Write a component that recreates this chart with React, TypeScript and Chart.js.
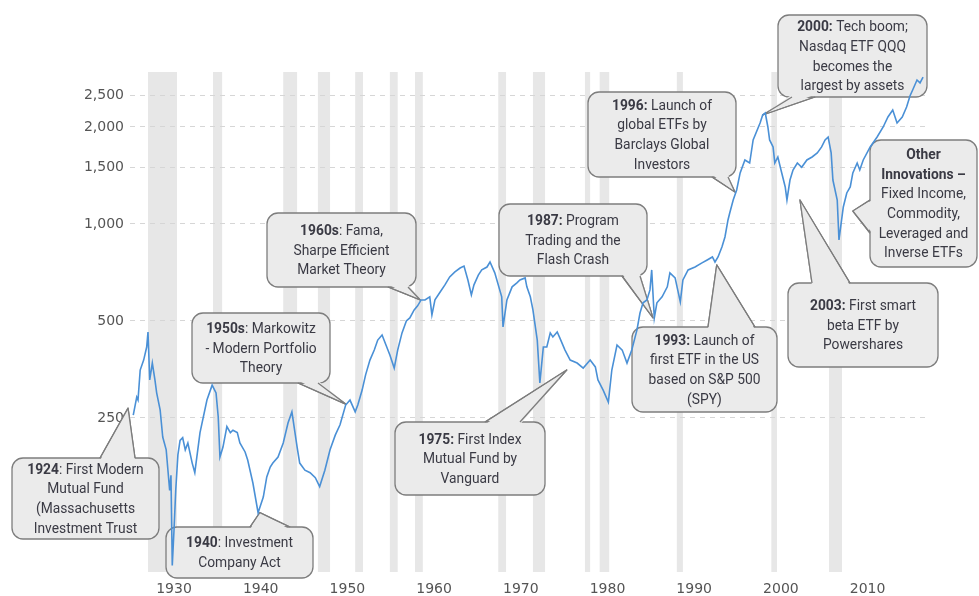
import React, { useEffect, useRef } from 'react';
import { Chart, registerables } from 'chart.js';

Chart.register(...registerables);

// ---- data (x positions in the chart's displayed years) ----
const years = [
  1925.3, 1925.7, 1925.85, 1926.1, 1926.5, 1926.85, 1927.0, 1927.2, 1927.5, 1927.8,
  1928.0, 1928.4, 1928.7, 1929.1, 1929.3, 1929.5, 1929.65, 1929.8, 1930.0, 1930.2,
  1930.45, 1930.7, 1931.0, 1931.3, 1931.6, 1932.1, 1932.4, 1933.0, 1933.8, 1934.4,
  1934.85, 1935.1, 1935.3, 1935.65, 1936.1, 1936.5, 1936.8, 1937.3, 1937.6, 1938.2,
  1938.5, 1939.1, 1939.7, 1940.3, 1940.7, 1941.1, 1941.4, 1942.0, 1942.6, 1943.15,
  1943.6, 1944.2, 1944.5, 1945.1, 1945.7, 1946.3, 1946.8, 1947.4, 1948.0, 1948.6,
  1949.15, 1949.8, 1950.3, 1950.9, 1951.2, 1951.7, 1952.1, 1952.6, 1953.1, 1953.5,
  1954.0, 1954.45, 1954.9, 1955.4, 1955.8, 1956.3, 1956.8, 1957.2, 1957.7, 1958.1,
  1958.5, 1958.95, 1959.5, 1959.75, 1960.1, 1960.7, 1961.25, 1961.8, 1962.4, 1963.0,
  1963.45, 1963.9, 1964.3, 1964.6, 1965.1, 1965.5, 1966.1, 1966.45, 1967.0, 1967.8,
  1967.95, 1968.4, 1969.0, 1969.55, 1969.9, 1970.5, 1970.7, 1971.1, 1971.4, 1971.9,
  1972.2, 1972.6, 1973.0, 1973.4, 1973.7, 1974.2, 1974.5, 1975.1, 1975.7, 1976.5,
  1977.2, 1978.0, 1978.6, 1978.9, 1979.5, 1980.1, 1980.5, 1981.1, 1981.7, 1982.25,
  1982.8, 1983.4, 1983.75, 1984.1, 1984.55, 1984.9, 1985.1, 1985.4, 1985.7, 1986.3,
  1986.9, 1987.2, 1987.8, 1988.1, 1988.4, 1988.7, 1989.3, 1990.1, 1990.9, 1991.5,
  1992.1, 1992.4, 1992.75, 1993.2, 1993.55, 1993.9, 1994.1, 1994.5, 1994.9, 1995.3,
  1995.85, 1996.4, 1996.8, 1997.6, 1997.9, 1998.2, 1998.5, 1998.7, 1999.1, 1999.3,
  1999.65, 2000.1, 2000.5, 2000.7, 2001.05, 2001.4, 2001.9, 2002.4, 2003.0, 2003.6,
  2004.2, 2004.7, 2005.1, 2005.45, 2005.8, 2006.0, 2006.5, 2006.7, 2007.2, 2007.6,
  2008.0, 2008.3, 2008.8, 2009.1, 2009.5, 2010.3, 2011.1, 2011.8, 2012.35, 2012.9,
  2013.4, 2014.0, 2014.5, 2014.9, 2015.2, 2015.7, 2016.05, 2016.4,
];
const values = [
  255, 290, 284, 352, 378, 415, 462, 328, 370, 328,
  299, 265, 218, 199, 172, 149, 166, 87, 112, 149,
  192, 213, 217, 199, 209, 181, 169, 225, 284, 316,
  299, 252, 189, 203, 235, 225, 229, 225, 209, 196,
  185, 157, 127, 142, 164, 176, 181, 189, 209, 241,
  261, 203, 181, 172, 169, 163, 153, 172, 199, 221,
  238, 274, 284, 261, 274, 305, 340, 378, 406, 436,
  452, 421, 392, 357, 406, 459, 500, 511, 541, 557,
  581, 581, 594, 522, 581, 615, 647, 685, 710, 730,
  740, 670, 602, 647, 694, 720, 735, 762, 705, 594,
  479, 581, 638, 656, 670, 680, 638, 594, 541, 436,
  321, 415, 415, 459, 446, 462, 443, 406, 378, 370,
  357, 378, 360, 328, 305, 280, 352, 421, 406, 370,
  406, 469, 529, 569, 581, 624, 720, 511, 569, 594,
  638, 705, 680, 624, 573, 670, 720, 735, 757, 773,
  790, 762, 790, 848, 911, 1029, 1081, 1187, 1275, 1440,
  1580, 1546, 1823, 2058, 2179, 2210, 2000, 1823, 1734, 1546,
  1614, 1440, 1303, 1187, 1369, 1471, 1546, 1500, 1580, 1614,
  1661, 1734, 1823, 1862, 1661, 1369, 1187, 892, 1129, 1248,
  1303, 1440, 1546, 1471, 1580, 1734, 1862, 2000, 2148, 2258,
  2058, 2148, 2307, 2500, 2605, 2798, 2740, 2858,
];
const yTickValues = [250, 500, 1000, 1500, 2000, 2500];
const xTickValues = [1930, 1940, 1950, 1960, 1970, 1980, 1990, 2000, 2010];
const bandStart = [1927.0, 1934.5, 1942.6, 1946.6, 1950.9, 1954.9, 1957.8, 1967.4, 1971.4, 1977.4, 1979.1, 1988.0, 1998.9, 2005.55];
const bandEnd = [1930.35, 1935.55, 1944.2, 1948.0, 1951.8, 1955.8, 1958.7, 1968.3, 1972.8, 1978.0, 1980.2, 1988.7, 1999.55, 2007.05];

const X_MIN = 1924.925;
const X_MAX = 2017.2;
const Y_MIN = 83.1;
const Y_MAX = 2963;

// ---- callouts: box layout in px, pointer tip in data units ----
type Seg = [string, number];
type Callout = {
  x: number; y: number; w: number; h: number;
  side: 'top' | 'bottom' | 'left';
  b1: number; b2: number;
  tipYear: number; tipValue: number;
  lines: Seg[][];
};
const callouts: Callout[] = [
  { x: 12, y: 458, w: 147, h: 81, side: 'top', b1: 100, b2: 135, tipYear: 1924.7, tipValue: 268,
    lines: [[['1924', 1], [': First Modern', 0]], [['Mutual Fund', 0]], [['(Massachusetts', 0]], [['Investment Trust', 0]]] },
  { x: 166, y: 527, w: 147, h: 51, side: 'top', b1: 250, b2: 290, tipYear: 1939.9, tipValue: 127,
    lines: [[['1940', 1], [': Investment', 0]], [['Company Act', 0]]] },
  { x: 192, y: 313, w: 138, h: 70, side: 'bottom', b1: 298, b2: 318, tipYear: 1949.8, tipValue: 276,
    lines: [[['1950s', 1], [': Markowitz', 0]], [['- Modern Portfolio', 0]], [['Theory', 0]]] },
  { x: 267, y: 213, w: 149, h: 74, side: 'bottom', b1: 388, b2: 408, tipYear: 1958.4, tipValue: 581,
    lines: [[['1960s', 1], [': Fama,', 0]], [['Sharpe Efficient', 0]], [['Market Theory', 0]]] },
  { x: 395, y: 422, w: 150, h: 73, side: 'top', b1: 485, b2: 520, tipYear: 1975.3, tipValue: 352,
    lines: [[['1975:', 1], [' First Index', 0]], [['Mutual Fund by', 0]], [['Vanguard', 0]]] },
  { x: 499, y: 204, w: 148, h: 72, side: 'bottom', b1: 622, b2: 640, tipYear: 1985.25, tipValue: 511,
    lines: [[['1987:', 1], [' Program', 0]], [['Trading and the', 0]], [['Flash Crash', 0]]] },
  { x: 632, y: 327, w: 145, h: 85, side: 'top', b1: 708, b2: 755, tipYear: 1992.6, tipValue: 746,
    lines: [[['1993:', 1], [' Launch of', 0]], [['first ETF in the US', 0]], [['based on S&P 500', 0]], [['(SPY)', 0]]] },
  { x: 588, y: 92, w: 148, h: 85, side: 'bottom', b1: 712, b2: 728, tipYear: 1994.7, tipValue: 1257,
    lines: [[['1996:', 1], [' Launch of', 0]], [['global ETFs by', 0]], [['Barclays Global', 0]], [['Investors', 0]]] },
  { x: 778, y: 15, w: 149, h: 82, side: 'bottom', b1: 792, b2: 815, tipYear: 1997.9, tipValue: 2179,
    lines: [[['2000:', 1], [' Tech boom;', 0]], [['Nasdaq ETF QQQ', 0]], [['becomes the', 0]], [['largest by assets', 0]]] },
  { x: 870, y: 140, w: 107, h: 127, side: 'left', b1: 200, b2: 233, tipYear: 2008.3, tipValue: 1097,
    lines: [[['Other', 1]], [['Innovations \u2013', 1]], [['Fixed Income,', 0]], [['Commodity,', 0]], [['Leveraged and', 0]], [['Inverse ETFs', 0]]] },
  { x: 788, y: 283, w: 150, h: 84, side: 'top', b1: 812, b2: 850, tipYear: 2002.2, tipValue: 1187,
    lines: [[['2003:', 1], [' First smart', 0]], [['beta ETF by', 0]], [['Powershares', 0]]] },
];

const BOX_FILL = '#ebebeb';
const BOX_STROKE = '#7d7d7d';
const TEXT_COLOR = '#3a3a44';
const FONT_SIZE = 15;
const FONT_FAMILY = 'Roboto, "Noto Sans", sans-serif';
const H_SCALE = 0.92;
const LINE_H = 19.6;

function roundRectPath(ctx: CanvasRenderingContext2D, x: number, y: number, w: number, h: number, r: number) {
  ctx.beginPath();
  ctx.moveTo(x + r, y);
  ctx.arcTo(x + w, y, x + w, y + h, r);
  ctx.arcTo(x + w, y + h, x, y + h, r);
  ctx.arcTo(x, y + h, x, y, r);
  ctx.arcTo(x, y, x + w, y, r);
  ctx.closePath();
}

const bandsPlugin = {
  id: 'bands',
  beforeDraw(chart: any) {
    const { ctx, chartArea } = chart;
    const xs = chart.scales.x;
    ctx.save();
    ctx.fillStyle = '#e7e7e7';
    for (let i = 0; i < bandStart.length; i++) {
      const a = xs.getPixelForValue(bandStart[i]);
      const b = xs.getPixelForValue(bandEnd[i]);
      ctx.fillRect(a, chartArea.top, b - a, chartArea.bottom - chartArea.top);
    }
    ctx.restore();
  },
};

const calloutPlugin = {
  id: 'callouts',
  beforeDatasetsDraw(chart: any) {
    const { ctx } = chart;
    const xs = chart.scales.x;
    const ys = chart.scales.y;
    ctx.save();
    ctx.lineWidth = 1.3;
    ctx.lineJoin = 'round';
    for (const c of callouts) {
      const tx = xs.getPixelForValue(c.tipYear);
      const ty = ys.getPixelForValue(c.tipValue);
      let p1: number[], p2: number[], q1: number[], q2: number[];
      if (c.side === 'top') {
        p1 = [c.b1, c.y]; p2 = [c.b2, c.y]; q1 = [c.b1, c.y + 2.5]; q2 = [c.b2, c.y + 2.5];
      } else if (c.side === 'bottom') {
        p1 = [c.b1, c.y + c.h]; p2 = [c.b2, c.y + c.h]; q1 = [c.b1, c.y + c.h - 2.5]; q2 = [c.b2, c.y + c.h - 2.5];
      } else {
        p1 = [c.x, c.b1]; p2 = [c.x, c.b2]; q1 = [c.x + 2.5, c.b1]; q2 = [c.x + 2.5, c.b2];
      }
      ctx.fillStyle = BOX_FILL;
      ctx.strokeStyle = BOX_STROKE;
      ctx.beginPath();
      ctx.moveTo(tx, ty); ctx.lineTo(p1[0], p1[1]); ctx.lineTo(p2[0], p2[1]); ctx.closePath();
      ctx.fill(); ctx.stroke();
      roundRectPath(ctx, c.x, c.y, c.w, c.h, 11);
      ctx.fill(); ctx.stroke();
      ctx.beginPath();
      ctx.moveTo(tx, ty); ctx.lineTo(q1[0], q1[1]); ctx.lineTo(q2[0], q2[1]); ctx.closePath();
      ctx.fill();
      ctx.beginPath();
      ctx.moveTo(p1[0], p1[1]); ctx.lineTo(tx, ty); ctx.lineTo(p2[0], p2[1]);
      ctx.stroke();

      // text
      const cx = c.x + c.w / 2;
      const cy = c.y + c.h / 2 + 1;
      const n = c.lines.length;
      ctx.fillStyle = TEXT_COLOR;
      ctx.textBaseline = 'middle';
      ctx.textAlign = 'left';
      c.lines.forEach((segs, i) => {
        const ly = cy + (i - (n - 1) / 2) * LINE_H;
        let total = 0;
        const widths = segs.map(([t, b]) => {
          ctx.font = `${b ? 'bold ' : ''}${FONT_SIZE}px ${FONT_FAMILY}`;
          const w = ctx.measureText(t).width * H_SCALE;
          total += w;
          return w;
        });
        let x = cx - total / 2;
        segs.forEach(([t, b], k) => {
          ctx.font = `${b ? 'bold ' : ''}${FONT_SIZE}px ${FONT_FAMILY}`;
          ctx.save();
          ctx.translate(x, ly);
          ctx.scale(H_SCALE, 1);
          ctx.fillText(t, 0, 0);
          ctx.restore();
          x += widths[k];
        });
      });
    }
    ctx.restore();
  },
};

export default function App() {
  const ref = useRef<HTMLCanvasElement | null>(null);
  useEffect(() => {
    document.body.style.margin = '0';
    const canvas = ref.current;
    if (!canvas) return;
    const chart = new Chart(canvas, {
      type: 'line',
      data: {
        datasets: [
          {
            data: years.map((y, i) => ({ x: y, y: values[i] })),
            borderColor: '#4a90d6',
            borderWidth: 1.6,
            pointRadius: 0,
            tension: 0,
            fill: false,
          },
        ],
      },
      options: {
        responsive: false,
        animation: false,
        layout: { padding: { left: 0, right: 49, top: 72, bottom: 0 } },
        plugins: { legend: { display: false }, tooltip: { enabled: false } },
        scales: {
          x: {
            type: 'linear',
            min: X_MIN,
            max: X_MAX,
            grid: { display: false, drawTicks: false },
            border: { display: false },
            afterBuildTicks: (s: any) => { s.ticks = xTickValues.map((v) => ({ value: v })); },
            afterFit: (s: any) => { s.height = 24; },
            ticks: {
              autoSkip: false,
              maxRotation: 0,
              padding: 9,
              color: '#555555',
              font: { family: '"DejaVu Sans", Verdana, sans-serif', size: 14 },
              callback: (v: any) => String(v),
            },
          },
          y: {
            type: 'logarithmic',
            min: Y_MIN,
            max: Y_MAX,
            grid: { color: '#d6d6d6', lineWidth: 1, drawTicks: false },
            border: { display: false, dash: [5, 5] },
            afterBuildTicks: (s: any) => { s.ticks = yTickValues.map((v) => ({ value: v })); },
            afterFit: (s: any) => { s.width = 130; },
            ticks: {
              padding: 6,
              color: '#555555',
              font: { family: '"DejaVu Sans", Verdana, sans-serif', size: 14 },
              callback: (v: any) => Number(v).toLocaleString('en-US'),
            },
          },
        },
      },
      plugins: [bandsPlugin, calloutPlugin],
    } as any);
    return () => chart.destroy();
  }, []);
  return (
    <div style={{ width: 979, height: 596, background: '#ffffff' }}>
      <canvas ref={ref} width={979} height={596} style={{ display: 'block' }} />
    </div>
  );
}
